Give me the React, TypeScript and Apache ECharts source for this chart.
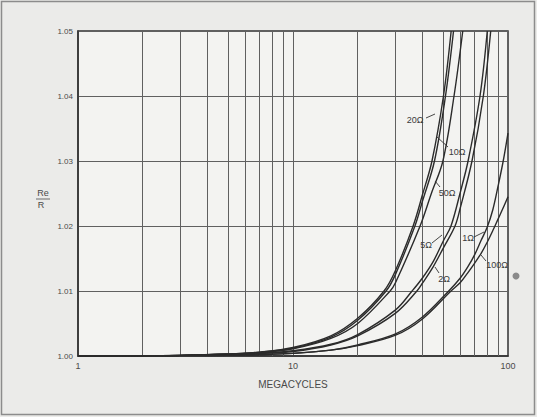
import React, { useEffect, useRef } from "react";
import * as echarts from "echarts";

// Frequency (megacycles) and Re/R readings for each resistor curve
const FREQ_20 = [1, 2, 3, 5, 7, 10, 15, 20, 26.5, 30, 36.2, 40, 44.3, 50.1, 54.4];
const RATIO_20 = [1.0, 1.00005, 1.0001, 1.0003, 1.0006, 1.0013, 1.0031, 1.0058, 1.01, 1.0132, 1.02, 1.0248, 1.03, 1.04, 1.05];

const FREQ_10 = [1, 2, 3, 5, 7, 10, 15, 20, 27.1, 30, 36.9, 40, 45.5, 51.2, 55.8];
const RATIO_10 = [1.0, 1.00005, 1.0001, 1.0003, 1.0006, 1.0012, 1.0029, 1.0055, 1.01, 1.0126, 1.02, 1.0238, 1.03, 1.04, 1.05];

const FREQ_50 = [1, 2, 3, 5, 7, 10, 15, 20, 28.3, 30, 39, 44, 49.8, 56.1, 61.6];
const RATIO_50 = [1.0, 1.00005, 1.0001, 1.0003, 1.0005, 1.0011, 1.0027, 1.005, 1.01, 1.0113, 1.02, 1.025, 1.03, 1.04, 1.05];

const FREQ_5 = [1, 2, 3, 5, 7, 10, 15, 20, 30, 35.8, 40, 45, 50, 54.3, 60, 65.2, 74.1, 80.1];
const RATIO_5 = [1.0, 1.00003, 1.0001, 1.0002, 1.0004, 1.0008, 1.0018, 1.0033, 1.0071, 1.01, 1.012, 1.0146, 1.0177, 1.02, 1.0252, 1.03, 1.04, 1.05];

const FREQ_2 = [1, 2, 3, 5, 7, 10, 15, 20, 30, 37.7, 40, 45, 50, 56.7, 60, 68, 76.8, 83.1];
const RATIO_2 = [1.0, 1.00003, 1.0001, 1.0002, 1.0004, 1.0007, 1.0017, 1.0031, 1.0066, 1.01, 1.0112, 1.0138, 1.0166, 1.02, 1.0228, 1.03, 1.04, 1.05];

const FREQ_1 = [1, 2, 3, 5, 7, 10, 15, 20, 30, 40, 53, 60, 65, 70, 75, 80, 85, 90, 95, 100];
const RATIO_1 = [1.0, 1.00002, 1.00005, 1.0001, 1.0002, 1.0004, 1.0009, 1.0017, 1.0034, 1.006, 1.01, 1.012, 1.0137, 1.0156, 1.0178, 1.0198, 1.0225, 1.0262, 1.03, 1.0343];

const FREQ_100 = [1, 2, 3, 5, 7, 10, 15, 20, 30, 40, 54.3, 60, 65, 70, 75, 80, 85, 90, 95, 100];
const RATIO_100 = [1.0, 1.00002, 1.00005, 1.0001, 1.0002, 1.0004, 1.0009, 1.0016, 1.0032, 1.0057, 1.01, 1.0113, 1.0128, 1.0143, 1.0158, 1.0175, 1.0193, 1.0211, 1.0228, 1.0245];

const CURVES = [
  { name: "20Ω", f: FREQ_20, r: RATIO_20 },
  { name: "10Ω", f: FREQ_10, r: RATIO_10 },
  { name: "50Ω", f: FREQ_50, r: RATIO_50 },
  { name: "5Ω", f: FREQ_5, r: RATIO_5 },
  { name: "2Ω", f: FREQ_2, r: RATIO_2 },
  { name: "1Ω", f: FREQ_1, r: RATIO_1 },
  { name: "100Ω", f: FREQ_100, r: RATIO_100 },
];

const MINOR_GRID_FREQ = [2, 3, 4, 5, 6, 7, 8, 9, 20, 30, 40, 50, 60, 70, 80, 90];
const Y_TICKS_MIN = 1.0;
const Y_TICKS_MAX = 1.05;
const Y_STEP = 0.01;

const FONT = "'Liberation Sans', Arial, sans-serif";
const INK = "#2b2b2b";
const GRID = "#606060";
const LABEL = "#4a4a4a";

export default function App() {
  const ref = useRef<HTMLDivElement>(null);
  useEffect(() => {
    if (!ref.current) return;
    const chart = echarts.init(ref.current, undefined, { renderer: "svg" });

    const labelText = (text: string, x: number, y: number) => ({
      type: "text",
      x,
      y,
      z: 100,
      style: {
        text,
        fill: "#3a3a3a",
        font: `9px ${FONT}`,
        textAlign: "center",
        textVerticalAlign: "middle",
      },
    });
    const leader = (x1: number, y1: number, x2: number, y2: number) => ({
      type: "line",
      z: 100,
      shape: { x1, y1, x2, y2 },
      style: { stroke: "#333", lineWidth: 0.9 },
    });

    const series: any[] = CURVES.map((c, i) => ({
      type: "line",
      name: c.name,
      data: c.f.map((f, k) => [f, c.r[k]]),
      showSymbol: false,
      smooth: 0.35,
      clip: true,
      lineStyle: { color: INK, width: 1.4 },
      z: 5,
      markLine:
        i === 0
          ? {
              silent: true,
              symbol: "none",
              label: { show: false },
              lineStyle: { color: GRID, width: 1, type: "solid" },
              data: MINOR_GRID_FREQ.map((f) => ({ xAxis: f })),
              z: 1,
            }
          : undefined,
    }));

    chart.setOption({
      animation: false,
      backgroundColor: "#ebebe9",
      grid: {
        left: 78,
        right: 29,
        top: 31,
        bottom: 61,
        show: true,
        backgroundColor: "#f3f3f1",
        borderColor: "#333",
        borderWidth: 1.5,
      },
      xAxis: {
        type: "log",
        logBase: 10,
        min: 1,
        max: 100,
        axisLine: { show: true, lineStyle: { color: "#333", width: 1.5 } },
        axisTick: { show: false },
        axisLabel: { color: LABEL, fontSize: 9, fontFamily: FONT, margin: 5 },
        splitLine: { show: true, lineStyle: { color: GRID, width: 1 } },
        minorTick: { show: false },
        name: "MEGACYCLES",
        nameLocation: "middle",
        nameGap: 23,
        nameTextStyle: { color: LABEL, fontSize: 10, fontFamily: FONT },
      },
      yAxis: {
        type: "value",
        min: Y_TICKS_MIN,
        max: Y_TICKS_MAX,
        interval: Y_STEP,
        axisLine: { show: true, lineStyle: { color: "#333", width: 1.5 } },
        axisTick: { show: false },
        axisLabel: {
          color: LABEL,
          fontSize: 8,
          fontFamily: FONT,
          margin: 5,
          formatter: (v: number) => v.toFixed(2),
        },
        splitLine: { show: true, lineStyle: { color: GRID, width: 1 } },
      },
      series,
      graphic: [
        {
          type: "rect",
          z: -10,
          shape: { x: 1.5, y: 1.5, width: 533, height: 413 },
          style: { fill: "none", stroke: "#8c8c8c", lineWidth: 1.5 },
        },
        // Re / R fraction
        {
          type: "text",
          x: 43,
          y: 193,
          style: { text: "Re", fill: LABEL, font: `9px ${FONT}`, textAlign: "center", textVerticalAlign: "middle" },
        },
        { type: "line", shape: { x1: 36, y1: 199, x2: 50, y2: 199 }, style: { stroke: LABEL, lineWidth: 0.8 } },
        {
          type: "text",
          x: 41,
          y: 205,
          style: { text: "R", fill: LABEL, font: `9px ${FONT}`, textAlign: "center", textVerticalAlign: "middle" },
        },
        // curve labels
        labelText("20Ω", 415, 120),
        leader(426, 118, 435, 114),
        labelText("10Ω", 457, 152),
        leader(437, 137, 448, 147),
        labelText("50Ω", 447, 193),
        leader(435, 181, 440, 187),
        labelText("5Ω", 426, 245),
        leader(432, 243, 442, 235),
        labelText("2Ω", 444, 279),
        leader(435, 267, 439, 273),
        labelText("1Ω", 468, 238),
        leader(474, 237, 484, 232),
        labelText("100Ω", 497, 265),
        leader(481, 255, 486, 261),
        {
          type: "circle",
          shape: { cx: 516, cy: 276, r: 3.5 },
          style: { fill: "#8a8a8a" },
        },
      ],
    });
    return () => chart.dispose();
  }, []);
  return (
    <div
      ref={ref}
      style={{ position: "fixed", left: 0, top: 0, width: 537, height: 417 }}
    />
  );
}
